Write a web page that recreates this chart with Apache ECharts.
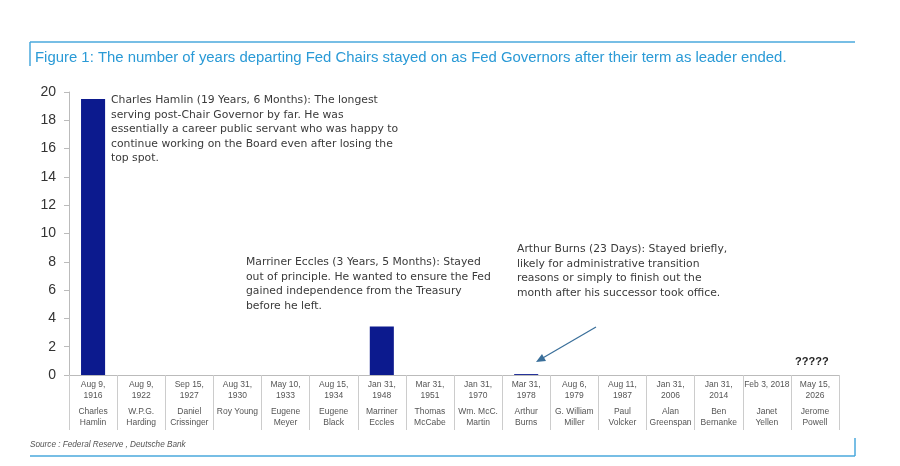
<!DOCTYPE html>
<html><head><meta charset="utf-8">
<script src="https://cdn.jsdelivr.net/npm/echarts@6/dist/echarts.min.js"></script>
<style>html,body{margin:0;padding:0;background:#fff}#c{width:900px;height:466px}</style>
</head><body><div id="c"></div>
<script>
const dateLines = [["Aug 9,","1916"],["Aug 9,","1922"],["Sep 15,","1927"],["Aug 31,","1930"],["May 10,","1933"],["Aug 15,","1934"],["Jan 31,","1948"],["Mar 31,","1951"],["Jan 31,","1970"],["Mar 31,","1978"],["Aug 6,","1979"],["Aug 11,","1987"],["Jan 31,","2006"],["Jan 31,","2014"],["Feb 3, 2018",""],["May 15,","2026"]];
const nameLines = [["Charles","Hamlin"],["W.P.G.","Harding"],["Daniel","Crissinger"],["Roy Young",""],["Eugene","Meyer"],["Eugene","Black"],["Marriner","Eccles"],["Thomas","McCabe"],["Wm. McC.","Martin"],["Arthur","Burns"],["G. William","Miller"],["Paul","Volcker"],["Alan","Greenspan"],["Ben","Bernanke"],["Janet","Yellen"],["Jerome","Powell"]];
const yearsStayed = [19.5, 0, 0, 0, 0, 0, 3.42, 0, 0, 0.063, 0, 0, 0, 0, 0, null];
const yTicks = [0,2,4,6,8,10,12,14,16,18,20];
const categories = dateLines.map((d,i)=>i);

const chart = echarts.init(document.getElementById('c'));
const txt = '#333';
const FONT = 'Liberation Sans, Arial, sans-serif';
const AFONT = 'DejaVu Sans, sans-serif';
function ann(x,y,lines){
  return {type:'text', left:x, top:y, style:{text:lines.join('\n'), font:'10.8px '+AFONT, fill:'#3a3a3a', lineHeight:14.5}};
}
chart.setOption({
  animation:false,
  grid:{left:69, right:61, top:92, bottom:91},
  xAxis:{type:'category', data:categories,
    axisLine:{lineStyle:{color:'#bbb'}},
    axisTick:{show:true, length:55, lineStyle:{color:'#ccc'}},
    axisLabel:{interval:0, margin:4, fontFamily:FONT,
      formatter:(v)=>{const d=dateLines[v], n=nameLines[v];
        return '{d|'+d[0]+'}\n{d|'+(d[1]||' ')+'}\n{g| }\n{n|'+n[0]+'}\n{n|'+(n[1]||' ')+'}';},
      rich:{d:{fontSize:8.5, lineHeight:11, color:'#555', fontFamily:FONT},
            g:{fontSize:5, lineHeight:5},
            n:{fontSize:8.5, lineHeight:11, color:'#555', fontFamily:FONT}}}
  },
  yAxis:{type:'value', min:0, max:20, interval:2,
    axisLine:{show:true, lineStyle:{color:'#bbb'}},
    axisTick:{show:true, length:5, lineStyle:{color:'#bbb'}},
    splitLine:{show:false},
    axisLabel:{fontSize:14, color:txt, fontFamily:FONT, margin:13,
      formatter:(v)=>yTicks.includes(v)?String(v):''}
  },
  series:[{type:'bar', data:yearsStayed, barWidth:'50%',
    itemStyle:{color:'#0c1a8e'}}],
  graphic:[
    {type:'line', shape:{x1:30,y1:42,x2:855,y2:42}, style:{stroke:'#4aa8dc', lineWidth:1.5}},
    {type:'line', shape:{x1:30,y1:42,x2:30,y2:66}, style:{stroke:'#4aa8dc', lineWidth:1.5}},
    {type:'text', left:35, top:50, style:{text:'Figure 1: The number of years departing Fed Chairs stayed on as Fed Governors after their term as leader ended.', font:'14.9px '+FONT, fill:'#2a9ad6'}},
    ann(111,93,['Charles Hamlin (19 Years, 6 Months): The longest','serving post-Chair Governor by far. He was','essentially a career public servant who was happy to','continue working on the Board even after losing the','top spot.']),
    ann(246,255,['Marriner Eccles (3 Years, 5 Months): Stayed','out of principle. He wanted to ensure the Fed','gained independence from the Treasury','before he left.']),
    ann(517,242,['Arthur Burns (23 Days): Stayed briefly,','likely for administrative transition','reasons or simply to finish out the','month after his successor took office.']),
    {type:'line', shape:{x1:596,y1:327,x2:541,y2:359}, style:{stroke:'#3a6f9a', lineWidth:1.3}},
    {type:'polygon', shape:{points:[[536,362],[546,361],[542,354]]}, style:{fill:'#3a6f9a'}},
    {type:'text', left:795, top:356, style:{text:'?????', font:'bold 11px '+FONT, fill:'#222'}},
    {type:'text', left:30, top:441, style:{text:'Source : Federal Reserve , Deutsche Bank', font:'italic 8.2px '+FONT, fill:'#555'}},
    {type:'line', shape:{x1:30,y1:456,x2:855,y2:456}, style:{stroke:'#4aa8dc', lineWidth:1.5}},
    {type:'line', shape:{x1:855,y1:438,x2:855,y2:456}, style:{stroke:'#4aa8dc', lineWidth:1.5}}
  ]
});
</script></body></html>
